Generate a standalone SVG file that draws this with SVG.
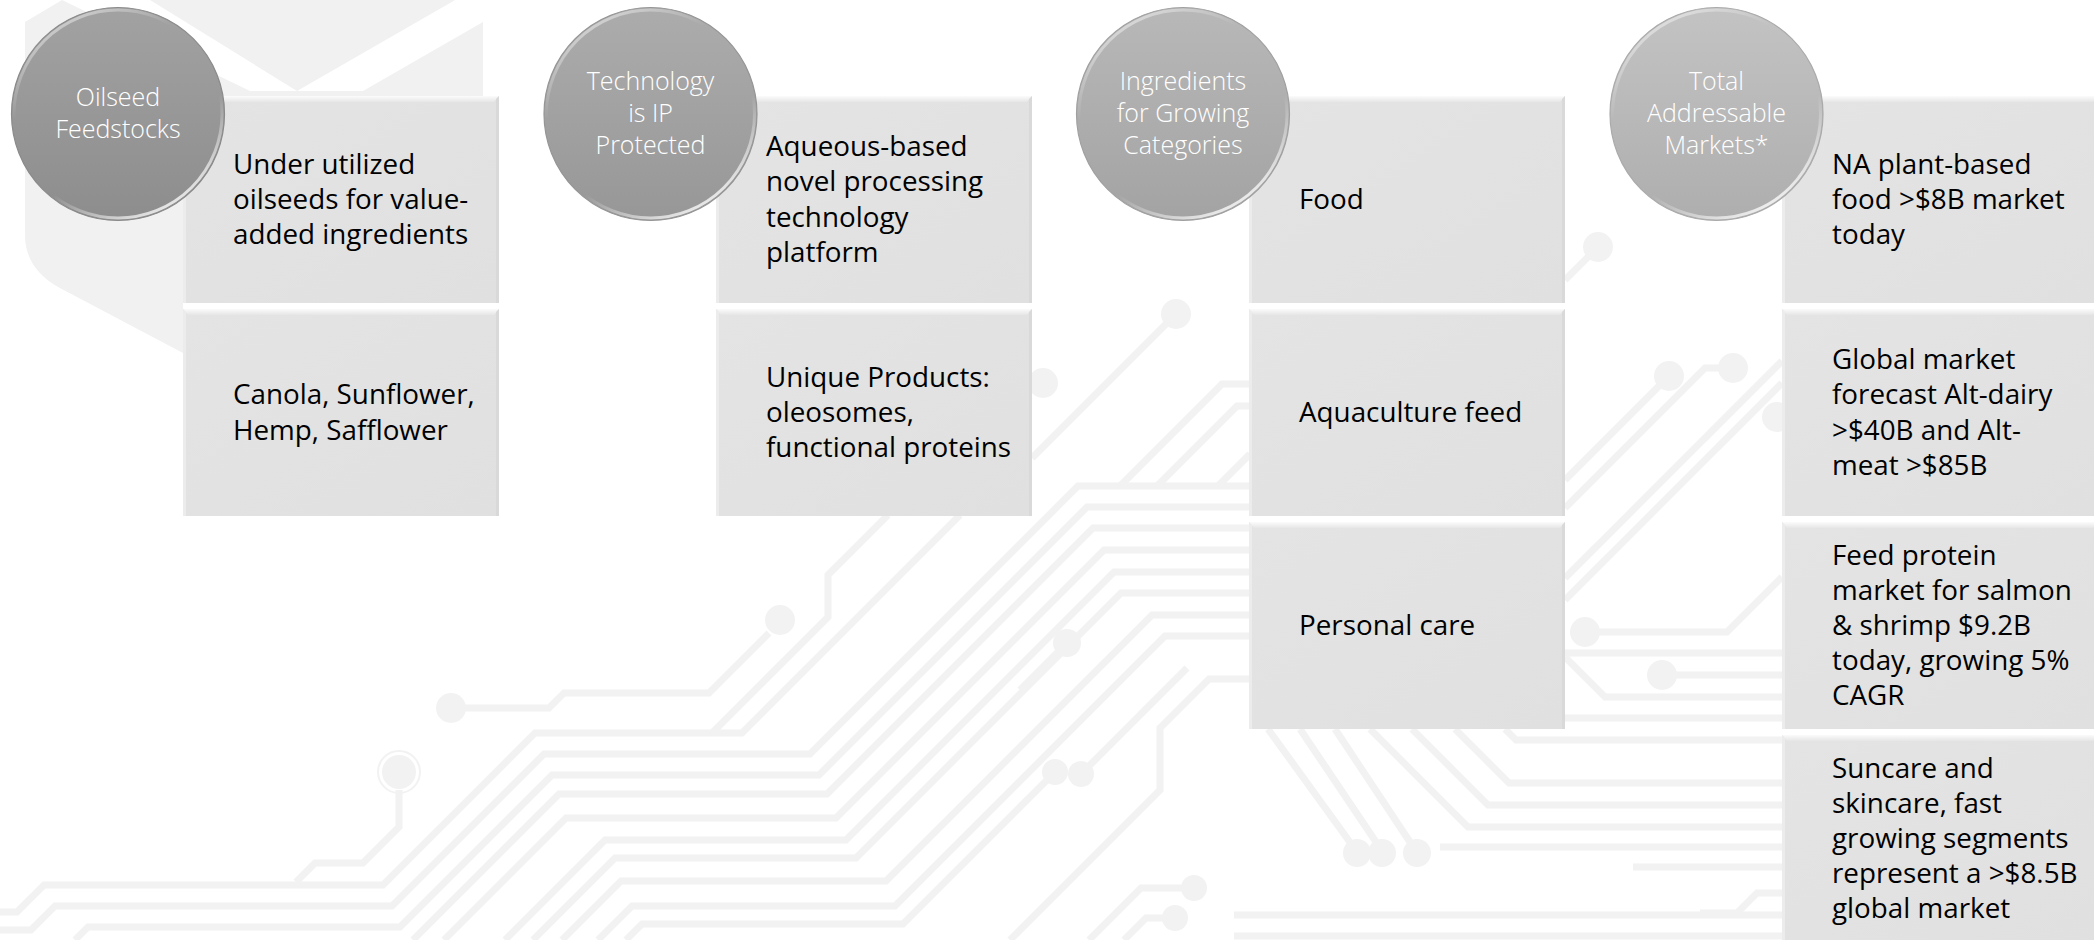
<svg xmlns="http://www.w3.org/2000/svg" width="2094" height="940" viewBox="0 0 2094 940">
  <defs>
    <style>
      .tr { fill: none; stroke: #f2f2f2; stroke-width: 7; stroke-linejoin: miter; }
      .pad { fill: #f2f2f2; }
      .cell-text { font-family: "Open Sans", "Liberation Sans", sans-serif; font-size: 27.8px; fill: #000000; }
      .disc-text { font-family: "Open Sans", "Liberation Sans", sans-serif; font-size: 25px; font-weight: 300; fill: #ffffff; text-anchor: middle; }
    </style>
    <linearGradient id="cellFill" x1="0" y1="0" x2="1" y2="1">
      <stop offset="0" stop-color="#e4e4e4"/>
      <stop offset="1" stop-color="#e0e0e0"/>
    </linearGradient>
    <linearGradient id="cellTop" x1="0" y1="0" x2="0" y2="1">
      <stop offset="0" stop-color="#fbfbfb"/>
      <stop offset="1" stop-color="#e6e6e6"/>
    </linearGradient>
    <symbol id="cell" viewBox="0 0 316 207" width="316" height="207" overflow="visible">
      <rect x="0" y="0" width="316" height="207" fill="url(#cellFill)"/>
      <polygon points="0,0 316,0 311,6 5,6" fill="url(#cellTop)"/>
      <polygon points="316,0 316,207 313,207 313,3" fill="#d9d9d9"/>
      <polygon points="0,0 3,3 3,207 0,207" fill="#ececec"/>
    </symbol>
    <linearGradient id="disc1" x1="0" y1="0" x2="0" y2="1">
      <stop offset="0" stop-color="#a2a2a2"/>
      <stop offset="1" stop-color="#8d8d8d"/>
    </linearGradient>
    <linearGradient id="disc2" x1="0" y1="0" x2="0" y2="1">
      <stop offset="0" stop-color="#acacac"/>
      <stop offset="1" stop-color="#979797"/>
    </linearGradient>
    <linearGradient id="disc3" x1="0" y1="0" x2="0" y2="1">
      <stop offset="0" stop-color="#b8b8b8"/>
      <stop offset="1" stop-color="#a3a3a3"/>
    </linearGradient>
    <linearGradient id="disc4" x1="0" y1="0" x2="0" y2="1">
      <stop offset="0" stop-color="#c3c3c3"/>
      <stop offset="1" stop-color="#aeaeae"/>
    </linearGradient>
    <linearGradient id="rim" x1="0.2" y1="0" x2="0.8" y2="1">
      <stop offset="0" stop-color="#ffffff" stop-opacity="0.55"/>
      <stop offset="0.3" stop-color="#ffffff" stop-opacity="0"/>
      <stop offset="0.65" stop-color="#ffffff" stop-opacity="0"/>
      <stop offset="1" stop-color="#ffffff" stop-opacity="0.95"/>
    </linearGradient>
  </defs>

  <rect width="2094" height="940" fill="#ffffff"/>

  <!-- faint circuit-board backdrop -->
  <g id="background">
    <!-- cube emblem, top left -->
    <path d="M25,22 L62,0 L483,0 L483,96 L183,96 L183,353 L58,287 Q25,268 25,235 Z" fill="#f1f1f1"/>
    <polygon points="297,91 363,91 483,22 483,-16" fill="#ffffff"/>
    <polygon points="62,0 150,0 297,91 250,91" fill="#ffffff"/>

    <g id="traces">
      <path class="tr" d="M0,912 H17 L44,885 H383 L535,733 H742 L960,515"/>
      <path class="tr" d="M712,733 L828,617 V575 L888,515"/>
      <path class="tr" d="M0,930 H31 L55,906 H392 L544,754 H810 L1078,486 H1250"/>
      <path class="tr" d="M75,940 L88,927 H400 L552,775 H819 L1087,507 H1250"/>
      <path class="tr" d="M413,940 L559,794 H827 L1093,528 H1250"/>
      <path class="tr" d="M444,940 L566,818 H836 L1104,550 H1250"/>
      <path class="tr" d="M505,940 L605,840 H846 L1114,572 H1250"/>
      <path class="tr" d="M533,940 L615,858 H856 L1121,593 H1250"/>
      <path class="tr" d="M562,940 L621,881 H886 L1152,615 H1250"/>
      <path class="tr" d="M598,940 L632,906 H895 L1165,636 H1250"/>
      <path class="tr" d="M626,940 L642,924 H903 L1055,772"/>
      <path class="tr" d="M1010,940 L1160,790 V728 L1209,679 H1250"/>
      <path class="tr" d="M1081,774 L1187,668"/>
      <path class="tr" d="M1067,643 L1020,690"/>
      <path class="tr" d="M451,708 H549 L564,693 H709 L769,633"/>
      <path class="tr" d="M399,790 V827 L363,863 H315 L296,882"/>
      <path class="tr" d="M1176,314 L1032,458"/>
      <path class="tr" d="M1120,486 L1222,384 H1250"/>
      <path class="tr" d="M1157,486 L1237,406 H1250"/>
      <path class="tr" d="M1218,486 L1250,454"/>
      <path class="tr" d="M1194,888 H1141 L1089,940"/>
      <path class="tr" d="M1175,918 H1146 L1124,940"/>
      <path class="tr" d="M1268,729 L1352,845"/>
      <path class="tr" d="M1300,729 L1378,845"/>
      <path class="tr" d="M1335,729 L1412,845"/>
      <path class="tr" d="M1565,280 L1598,247"/>
      <path class="tr" d="M1565,480 L1669,376"/>
      <path class="tr" d="M1733,368 H1705 L1565,508"/>
      <path class="tr" d="M1565,578 L1782,361"/>
      <path class="tr" d="M1565,600 L1782,383"/>
      <path class="tr" d="M1585,632 H1727 L1782,577"/>
      <path class="tr" d="M1565,653 H1782"/>
      <path class="tr" d="M1565,657 L1605,697 H1782"/>
      <path class="tr" d="M1662,675 H1782"/>
      <path class="tr" d="M1565,718 H1782"/>
      <path class="tr" d="M1505,729 L1516,740 H1782"/>
      <path class="tr" d="M1455,729 L1509,783 H1782"/>
      <path class="tr" d="M1412,729 L1488,805 H1782"/>
      <path class="tr" d="M1370,729 L1468,827 H1782"/>
      <path class="tr" d="M1440,847 H1782"/>
      <path class="tr" d="M1633,867 H1782"/>
      <path class="tr" d="M1700,913 H1737 L1757,893 H1782"/>
      <path class="tr" d="M1234,915 H1782"/>
      <path class="tr" d="M1234,936 H1782"/>

      <circle class="pad" cx="451" cy="708" r="15"/>
      <circle class="pad" cx="780" cy="620" r="15"/>
      <circle cx="399" cy="772" r="21" fill="none" stroke="#f2f2f2" stroke-width="2"/>
      <circle class="pad" cx="399" cy="772" r="17"/>
      <circle class="pad" cx="1176" cy="314" r="15"/>
      <circle class="pad" cx="1043" cy="383" r="15"/>
      <circle class="pad" cx="1055" cy="772" r="13"/>
      <circle class="pad" cx="1081" cy="774" r="13"/>
      <circle class="pad" cx="1067" cy="643" r="14"/>
      <circle class="pad" cx="1194" cy="888" r="13"/>
      <circle class="pad" cx="1175" cy="918" r="13"/>
      <circle class="pad" cx="1357" cy="853" r="14"/>
      <circle class="pad" cx="1382" cy="853" r="14"/>
      <circle class="pad" cx="1417" cy="853" r="14"/>
      <circle class="pad" cx="1598" cy="247" r="15"/>
      <circle class="pad" cx="1669" cy="376" r="15"/>
      <circle class="pad" cx="1733" cy="368" r="15"/>
      <circle class="pad" cx="1585" cy="632" r="15"/>
      <circle class="pad" cx="1662" cy="675" r="15"/>
      <circle class="pad" cx="1777" cy="417" r="15"/>
    </g>
  </g>

  <!-- column 1 -->
  <g id="cell-1a"><use href="#cell" x="183" y="96"/>
    <text class="cell-text" x="233" y="173.8">Under utilized<tspan x="233" dy="35.2">oilseeds for value-</tspan><tspan x="233" dy="35.2">added ingredients</tspan></text></g>
  <g id="cell-1b"><use href="#cell" x="183" y="309"/>
    <text class="cell-text" x="233" y="404.4">Canola, Sunflower,<tspan x="233" dy="35.2">Hemp, Safflower</tspan></text></g>

  <!-- column 2 -->
  <g id="cell-2a"><use href="#cell" x="716" y="96"/>
    <text class="cell-text" x="766" y="156.2">Aqueous-based<tspan x="766" dy="35.2">novel processing</tspan><tspan x="766" dy="35.2">technology</tspan><tspan x="766" dy="35.2">platform</tspan></text></g>
  <g id="cell-2b"><use href="#cell" x="716" y="309"/>
    <text class="cell-text" x="766" y="386.8">Unique Products:<tspan x="766" dy="35.2">oleosomes,</tspan><tspan x="766" dy="35.2">functional proteins</tspan></text></g>

  <!-- column 3 -->
  <g id="cell-3a"><use href="#cell" x="1249" y="96"/>
    <text class="cell-text" x="1299" y="209">Food</text></g>
  <g id="cell-3b"><use href="#cell" x="1249" y="309"/>
    <text class="cell-text" x="1299" y="422">Aquaculture feed</text></g>
  <g id="cell-3c"><use href="#cell" x="1249" y="522"/>
    <text class="cell-text" x="1299" y="635">Personal care</text></g>

  <!-- column 4 -->
  <g id="cell-4a"><use href="#cell" x="1782" y="96"/>
    <text class="cell-text" x="1832" y="173.8">NA plant-based<tspan x="1832" dy="35.2">food &gt;$8B market</tspan><tspan x="1832" dy="35.2">today</tspan></text></g>
  <g id="cell-4b"><use href="#cell" x="1782" y="309"/>
    <text class="cell-text" x="1832" y="369.2">Global market<tspan x="1832" dy="35.2">forecast Alt-dairy</tspan><tspan x="1832" dy="35.2">&gt;$40B and Alt-</tspan><tspan x="1832" dy="35.2">meat &gt;$85B</tspan></text></g>
  <g id="cell-4c"><use href="#cell" x="1782" y="522"/>
    <text class="cell-text" x="1832" y="564.6">Feed protein<tspan x="1832" dy="35.2">market for salmon</tspan><tspan x="1832" dy="35.2">&amp; shrimp $9.2B</tspan><tspan x="1832" dy="35.2">today, growing 5%</tspan><tspan x="1832" dy="35.2">CAGR</tspan></text></g>
  <g id="cell-4d"><use href="#cell" x="1782" y="735"/>
    <text class="cell-text" x="1832" y="777.6">Suncare and<tspan x="1832" dy="35.2">skincare, fast</tspan><tspan x="1832" dy="35.2">growing segments</tspan><tspan x="1832" dy="35.2">represent a &gt;$8.5B</tspan><tspan x="1832" dy="35.2">global market</tspan></text></g>

  <!-- header discs -->
  <g id="disc-1">
    <circle cx="118" cy="114" r="106.5" fill="url(#disc1)" stroke="#8a8a8a" stroke-width="1.2"/>
    <circle cx="118" cy="114" r="104" fill="none" stroke="url(#rim)" stroke-width="3"/>
    <text class="disc-text" x="118" y="106">Oilseed<tspan x="118" dy="32">Feedstocks</tspan></text>
  </g>
  <g id="disc-2">
    <circle cx="650.5" cy="114" r="106.5" fill="url(#disc2)" stroke="#959595" stroke-width="1.2"/>
    <circle cx="650.5" cy="114" r="104" fill="none" stroke="url(#rim)" stroke-width="3"/>
    <text class="disc-text" x="650.5" y="90">Technology<tspan x="650.5" dy="32">is IP</tspan><tspan x="650.5" dy="32">Protected</tspan></text>
  </g>
  <g id="disc-3">
    <circle cx="1183" cy="114" r="106.5" fill="url(#disc3)" stroke="#a0a0a0" stroke-width="1.2"/>
    <circle cx="1183" cy="114" r="104" fill="none" stroke="url(#rim)" stroke-width="3"/>
    <text class="disc-text" x="1183" y="90">Ingredients<tspan x="1183" dy="32">for Growing</tspan><tspan x="1183" dy="32">Categories</tspan></text>
  </g>
  <g id="disc-4">
    <circle cx="1716.5" cy="114" r="106.5" fill="url(#disc4)" stroke="#aaaaaa" stroke-width="1.2"/>
    <circle cx="1716.5" cy="114" r="104" fill="none" stroke="url(#rim)" stroke-width="3"/>
    <text class="disc-text" x="1716.5" y="90">Total<tspan x="1716.5" dy="32">Addressable</tspan><tspan x="1716.5" dy="32">Markets*</tspan></text>
  </g>
</svg>
